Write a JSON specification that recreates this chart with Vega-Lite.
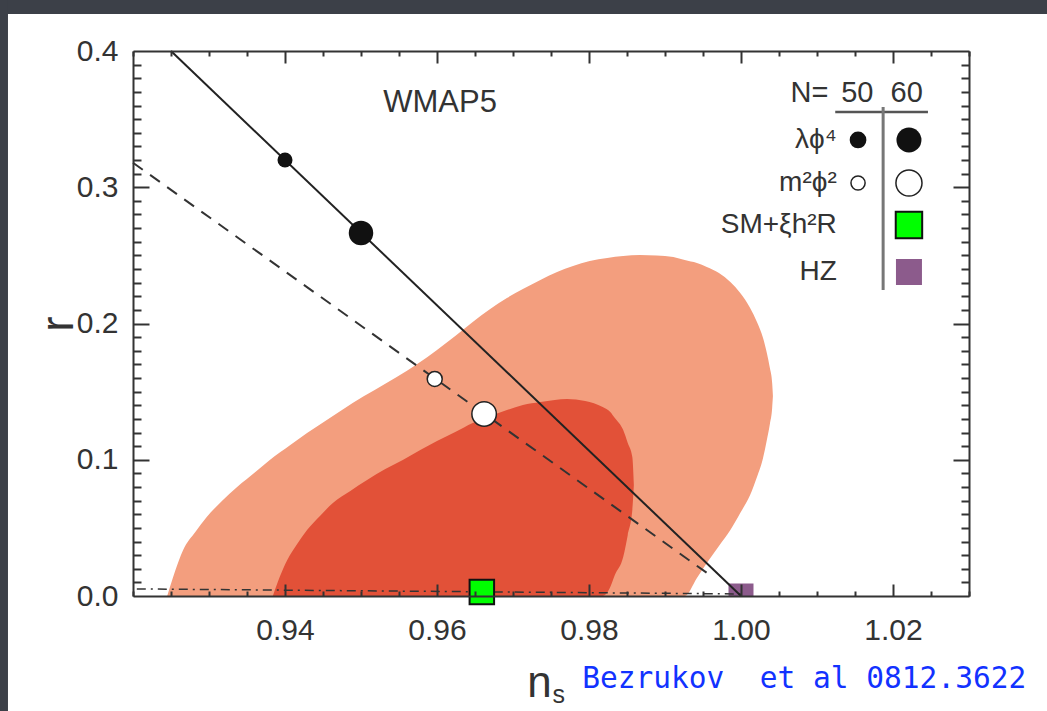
{
  "$schema": "https://vega.github.io/schema/vega-lite/v6.json",
  "usermeta": {"embedOptions": {"actions": false}},
  "width": 836,
  "height": 545,
  "autosize": {"type": "none"},
  "padding": {"left": 133, "top": 51, "right": 78, "bottom": 115},
  "background": "#ffffff",
  "config": {
    "view": {"stroke": null},
    "axis": {"grid": false, "labelFont": "Liberation Sans", "titleFont": "Liberation Sans", "zindex": 1}
  },
  "datasets": {
    "outer": [
      {"ns": 0.9245, "hi": 0.0, "lo": 0},
      {"ns": 0.9255, "hi": 0.0176, "lo": 0},
      {"ns": 0.9266, "hi": 0.0338, "lo": 0},
      {"ns": 0.9282, "hi": 0.047, "lo": 0},
      {"ns": 0.9297, "hi": 0.058, "lo": 0},
      {"ns": 0.9317, "hi": 0.0697, "lo": 0},
      {"ns": 0.9337, "hi": 0.08, "lo": 0},
      {"ns": 0.9361, "hi": 0.091, "lo": 0},
      {"ns": 0.938, "hi": 0.0998, "lo": 0},
      {"ns": 0.9407, "hi": 0.1108, "lo": 0},
      {"ns": 0.9429, "hi": 0.1196, "lo": 0},
      {"ns": 0.9459, "hi": 0.1306, "lo": 0},
      {"ns": 0.9489, "hi": 0.1417, "lo": 0},
      {"ns": 0.9518, "hi": 0.1512, "lo": 0},
      {"ns": 0.9547, "hi": 0.1607, "lo": 0},
      {"ns": 0.9574, "hi": 0.1703, "lo": 0},
      {"ns": 0.96, "hi": 0.1806, "lo": 0},
      {"ns": 0.9624, "hi": 0.1908, "lo": 0},
      {"ns": 0.9647, "hi": 0.2011, "lo": 0},
      {"ns": 0.967, "hi": 0.2106, "lo": 0},
      {"ns": 0.9692, "hi": 0.2187, "lo": 0},
      {"ns": 0.9713, "hi": 0.2253, "lo": 0},
      {"ns": 0.9736, "hi": 0.2319, "lo": 0},
      {"ns": 0.9758, "hi": 0.2378, "lo": 0},
      {"ns": 0.9779, "hi": 0.2422, "lo": 0},
      {"ns": 0.9801, "hi": 0.2459, "lo": 0},
      {"ns": 0.9824, "hi": 0.2481, "lo": 0},
      {"ns": 0.9845, "hi": 0.2495, "lo": 0},
      {"ns": 0.9867, "hi": 0.2503, "lo": 0},
      {"ns": 0.9889, "hi": 0.2499, "lo": 0},
      {"ns": 0.9911, "hi": 0.2488, "lo": 0},
      {"ns": 0.9926, "hi": 0.2466, "lo": 0},
      {"ns": 0.9942, "hi": 0.2444, "lo": 0.0132},
      {"ns": 0.9955, "hi": 0.2415, "lo": 0.0242},
      {"ns": 0.9971, "hi": 0.2371, "lo": 0.0367},
      {"ns": 0.9986, "hi": 0.2305, "lo": 0.0484},
      {"ns": 0.9999, "hi": 0.2224, "lo": 0.0609},
      {"ns": 1.0012, "hi": 0.2114, "lo": 0.0741},
      {"ns": 1.0021, "hi": 0.2011, "lo": 0.0873},
      {"ns": 1.0029, "hi": 0.1894, "lo": 0.1013},
      {"ns": 1.0034, "hi": 0.1784, "lo": 0.1145},
      {"ns": 1.0038, "hi": 0.1673, "lo": 0.1262},
      {"ns": 1.0041, "hi": 0.1563, "lo": 0.138},
      {"ns": 1.0042, "hi": 0.1468, "lo": 0.1468}
    ],
    "inner": [
      {"ns": 0.9384, "hi": 0.0, "lo": 0},
      {"ns": 0.9393, "hi": 0.0139, "lo": 0},
      {"ns": 0.9403, "hi": 0.0264, "lo": 0},
      {"ns": 0.9416, "hi": 0.0382, "lo": 0},
      {"ns": 0.9429, "hi": 0.0484, "lo": 0},
      {"ns": 0.9446, "hi": 0.0587, "lo": 0},
      {"ns": 0.9463, "hi": 0.0683, "lo": 0},
      {"ns": 0.9486, "hi": 0.0771, "lo": 0},
      {"ns": 0.9508, "hi": 0.0851, "lo": 0},
      {"ns": 0.9532, "hi": 0.0932, "lo": 0},
      {"ns": 0.9555, "hi": 0.0998, "lo": 0},
      {"ns": 0.9578, "hi": 0.1072, "lo": 0},
      {"ns": 0.96, "hi": 0.1138, "lo": 0},
      {"ns": 0.9624, "hi": 0.1204, "lo": 0},
      {"ns": 0.9647, "hi": 0.127, "lo": 0},
      {"ns": 0.967, "hi": 0.1321, "lo": 0},
      {"ns": 0.9692, "hi": 0.1365, "lo": 0},
      {"ns": 0.9713, "hi": 0.1402, "lo": 0},
      {"ns": 0.9736, "hi": 0.1424, "lo": 0},
      {"ns": 0.9755, "hi": 0.1439, "lo": 0},
      {"ns": 0.9771, "hi": 0.1446, "lo": 0},
      {"ns": 0.9795, "hi": 0.1431, "lo": 0},
      {"ns": 0.9818, "hi": 0.1387, "lo": 0},
      {"ns": 0.9828, "hi": 0.1351, "lo": 0.0066},
      {"ns": 0.9834, "hi": 0.1306, "lo": 0.0154},
      {"ns": 0.9845, "hi": 0.1218, "lo": 0.0286},
      {"ns": 0.9851, "hi": 0.1123, "lo": 0.0448},
      {"ns": 0.9857, "hi": 0.102, "lo": 0.0631},
      {"ns": 0.9859, "hi": 0.0815, "lo": 0.0815}
    ],
    "solid": [{"ns": 0.925, "r": 0.4}, {"ns": 1.0, "r": 0.0}],
    "dashed": [{"ns": 0.92, "r": 0.318}, {"ns": 0.9955, "r": 0.017}],
    "dashdot": [{"ns": 0.9205, "r": 0.0052}, {"ns": 1.0, "r": 0.0015}],
    "points": [
      {"model": "lambda_phi4", "N": 50, "ns": 0.94, "r": 0.32},
      {"model": "lambda_phi4", "N": 60, "ns": 0.95, "r": 0.2664},
      {"model": "m2_phi2", "N": 50, "ns": 0.9597, "r": 0.1593},
      {"model": "m2_phi2", "N": 60, "ns": 0.9662, "r": 0.1336},
      {"model": "SM_xi_h2R", "N": 60, "ns": 0.9659, "r": 0.003},
      {"model": "HZ", "ns": 1.0, "r": 0.0}
    ]
  },
  "layer": [
    {
      "data": {"values": [{}]},
      "layer": [
        {
          "mark": {"type": "rect", "fill": "#3c4048", "clip": false},
          "encoding": {
            "x": {"datum": 0.85, "type": "quantitative",
              "scale": {"domain": [0.92, 1.03], "nice": false, "zero": false},
              "axis": {"orient": "bottom", "values": [0.94, 0.96, 0.98, 1.0, 1.02], "format": ".2f", "ticks": false,
                "domain": true, "domainColor": "#333333", "domainWidth": 2, "labelFontSize": 30, "labelColor": "#333333",
                "labelPadding": 19, "labelFlush": false, "labelOverlap": false, "title": null, "zindex": 1}},
            "x2": {"datum": 1.2},
            "y": {"datum": 0.4272, "type": "quantitative",
              "scale": {"domain": [0, 0.4], "nice": false, "zero": false},
              "axis": {"orient": "left", "values": [0, 0.1, 0.2, 0.3, 0.4], "format": ".1f", "ticks": false,
                "domain": true, "domainColor": "#333333", "domainWidth": 2, "labelFontSize": 30, "labelColor": "#333333",
                "labelPadding": 15, "labelFlush": false, "labelOverlap": false, "title": "r", "titleFontSize": 46,
                "titleFontWeight": "normal", "titleColor": "#333333", "titlePadding": -6, "zindex": 1}},
            "y2": {"datum": 0.7}
          }
        },
        {
          "mark": {"type": "rect", "fill": "#3c4048", "clip": false},
          "encoding": {
            "x": {"datum": 0.85, "type": "quantitative"},
            "x2": {"datum": 0.90355},
            "y": {"datum": -0.3, "type": "quantitative"},
            "y2": {"datum": 0.7}
          }
        },
        {
          "data": {"name": "outer"},
          "mark": {"type": "area", "fill": "#f39e7e", "interpolate": "monotone"},
          "encoding": {
            "x": {"field": "ns", "type": "quantitative"},
            "y": {"field": "hi", "type": "quantitative"},
            "y2": {"field": "lo"}
          }
        },
        {
          "data": {"name": "inner"},
          "mark": {"type": "area", "fill": "#e25138", "interpolate": "monotone"},
          "encoding": {
            "x": {"field": "ns", "type": "quantitative"},
            "y": {"field": "hi", "type": "quantitative"},
            "y2": {"field": "lo"}
          }
        },
        {
          "data": {"name": "points"},
          "transform": [{"filter": "datum.model == 'HZ'"}],
          "mark": {"type": "square", "fill": "#8c5b8c", "size": 625, "opacity": 1, "clip": true},
          "encoding": {
            "x": {"field": "ns", "type": "quantitative"},
            "y": {"field": "r", "type": "quantitative"}
          }
        },
        {
          "data": {"name": "dashdot"},
          "mark": {"type": "line", "stroke": "#333333", "strokeWidth": 1.5, "strokeDash": [9, 5, 2, 5]},
          "encoding": {
            "x": {"field": "ns", "type": "quantitative"},
            "y": {"field": "r", "type": "quantitative"}
          }
        },
        {
          "data": {"name": "dashed"},
          "mark": {"type": "line", "stroke": "#333333", "strokeWidth": 2, "strokeDash": [12, 9]},
          "encoding": {
            "x": {"field": "ns", "type": "quantitative"},
            "y": {"field": "r", "type": "quantitative"}
          }
        },
        {
          "data": {"name": "solid"},
          "mark": {"type": "line", "stroke": "#222222", "strokeWidth": 2},
          "encoding": {
            "x": {"field": "ns", "type": "quantitative"},
            "y": {"field": "r", "type": "quantitative"}
          }
        },
        {
          "data": {"name": "points"},
          "transform": [{"filter": "datum.model == 'lambda_phi4'"}],
          "mark": {"type": "point", "shape": "circle", "filled": true, "fill": "#111111", "opacity": 1, "strokeWidth": 0},
          "encoding": {
            "x": {"field": "ns", "type": "quantitative"},
            "y": {"field": "r", "type": "quantitative"},
            "size": {"field": "N", "type": "ordinal", "scale": {"domain": [50, 60], "range": [225, 600]}, "legend": null}
          }
        },
        {
          "data": {"name": "points"},
          "transform": [{"filter": "datum.model == 'm2_phi2'"}],
          "mark": {"type": "point", "shape": "circle", "filled": true, "fill": "#ffffff", "stroke": "#222222", "strokeWidth": 1.5, "opacity": 1},
          "encoding": {
            "x": {"field": "ns", "type": "quantitative"},
            "y": {"field": "r", "type": "quantitative"},
            "size": {"field": "N", "type": "ordinal", "legend": null}
          }
        },
        {
          "data": {"name": "points"},
          "transform": [{"filter": "datum.model == 'SM_xi_h2R'"}],
          "mark": {"type": "square", "fill": "#00ff00", "stroke": "#111111", "strokeWidth": 2, "opacity": 1},
          "encoding": {
            "x": {"field": "ns", "type": "quantitative"},
            "y": {"field": "r", "type": "quantitative"},
            "size": {"field": "N", "type": "ordinal", "legend": null}
          }
        },
        {
          "mark": {"type": "text", "text": "WMAP5", "font": "Liberation Sans", "fontSize": 31, "fill": "#333333", "align": "center", "baseline": "middle", "clip": false},
          "encoding": {"x": {"datum": 0.9604, "type": "quantitative"}, "y": {"datum": 0.3618, "type": "quantitative"}}
        },
        {
          "mark": {"type": "text", "text": "N=", "font": "Liberation Sans", "fontSize": 29, "fill": "#333333", "align": "center", "baseline": "alphabetic"},
          "encoding": {"x": {"datum": 1.009, "type": "quantitative"}, "y": {"datum": 0.3626, "type": "quantitative"}}
        },
        {
          "mark": {"type": "text", "text": "50", "font": "Liberation Sans", "fontSize": 29, "fill": "#333333", "align": "center", "baseline": "alphabetic"},
          "encoding": {"x": {"datum": 1.0153, "type": "quantitative"}, "y": {"datum": 0.3626, "type": "quantitative"}}
        },
        {
          "mark": {"type": "text", "text": "60", "font": "Liberation Sans", "fontSize": 29, "fill": "#333333", "align": "center", "baseline": "alphabetic"},
          "encoding": {"x": {"datum": 1.0218, "type": "quantitative"}, "y": {"datum": 0.3626, "type": "quantitative"}}
        },
        {
          "mark": {"type": "rule", "stroke": "#555555", "strokeWidth": 2.5},
          "encoding": {"x": {"datum": 1.0124, "type": "quantitative"}, "x2": {"datum": 1.0246}, "y": {"datum": 0.3552, "type": "quantitative"}}
        },
        {
          "mark": {"type": "rule", "stroke": "#777777", "strokeWidth": 3},
          "encoding": {"x": {"datum": 1.0187, "type": "quantitative"}, "y": {"datum": 0.2246, "type": "quantitative"}, "y2": {"datum": 0.3589}}
        },
        {
          "mark": {"type": "text", "text": "λϕ⁴", "font": "Liberation Sans", "fontSize": 28, "fill": "#333333", "align": "right", "baseline": "middle"},
          "encoding": {"x": {"datum": 1.0126, "type": "quantitative"}, "y": {"datum": 0.3347, "type": "quantitative"}}
        },
        {
          "mark": {"type": "text", "text": "m²ϕ²", "font": "Liberation Sans", "fontSize": 28, "fill": "#333333", "align": "right", "baseline": "middle"},
          "encoding": {"x": {"datum": 1.0126, "type": "quantitative"}, "y": {"datum": 0.3031, "type": "quantitative"}}
        },
        {
          "mark": {"type": "text", "text": "SM+ξh²R", "font": "Liberation Sans", "fontSize": 28, "fill": "#333333", "align": "right", "baseline": "middle"},
          "encoding": {"x": {"datum": 1.0126, "type": "quantitative"}, "y": {"datum": 0.2723, "type": "quantitative"}}
        },
        {
          "mark": {"type": "text", "text": "HZ", "font": "Liberation Sans", "fontSize": 28, "fill": "#333333", "align": "right", "baseline": "middle"},
          "encoding": {"x": {"datum": 1.0126, "type": "quantitative"}, "y": {"datum": 0.2378, "type": "quantitative"}}
        },
        {
          "mark": {"type": "point", "shape": "circle", "filled": true, "fill": "#111111", "size": 280, "opacity": 1, "strokeWidth": 0},
          "encoding": {"x": {"datum": 1.0154, "type": "quantitative"}, "y": {"datum": 0.3347, "type": "quantitative"}}
        },
        {
          "mark": {"type": "point", "shape": "circle", "filled": true, "fill": "#111111", "size": 625, "opacity": 1, "strokeWidth": 0},
          "encoding": {"x": {"datum": 1.0221, "type": "quantitative"}, "y": {"datum": 0.3347, "type": "quantitative"}}
        },
        {
          "mark": {"type": "point", "shape": "circle", "filled": true, "fill": "#ffffff", "stroke": "#222222", "strokeWidth": 1.5, "size": 200, "opacity": 1},
          "encoding": {"x": {"datum": 1.0154, "type": "quantitative"}, "y": {"datum": 0.3031, "type": "quantitative"}}
        },
        {
          "mark": {"type": "point", "shape": "circle", "filled": true, "fill": "#ffffff", "stroke": "#222222", "strokeWidth": 1.5, "size": 680, "opacity": 1},
          "encoding": {"x": {"datum": 1.0221, "type": "quantitative"}, "y": {"datum": 0.3031, "type": "quantitative"}}
        },
        {
          "mark": {"type": "square", "fill": "#00ff00", "stroke": "#111111", "strokeWidth": 2, "size": 700, "opacity": 1},
          "encoding": {"x": {"datum": 1.0221, "type": "quantitative"}, "y": {"datum": 0.2723, "type": "quantitative"}}
        },
        {
          "mark": {"type": "square", "fill": "#8c5b8c", "size": 676, "opacity": 1},
          "encoding": {"x": {"datum": 1.0221, "type": "quantitative"}, "y": {"datum": 0.2378, "type": "quantitative"}}
        },
        {
          "mark": {"type": "text", "text": "n", "font": "Liberation Sans", "fontSize": 44, "fill": "#333333", "align": "center", "baseline": "alphabetic", "clip": false},
          "encoding": {"x": {"datum": 0.9735, "type": "quantitative"}, "y": {"datum": -0.0741, "type": "quantitative"}}
        },
        {
          "mark": {"type": "text", "text": "s", "font": "Liberation Sans", "fontSize": 25, "fill": "#333333", "align": "left", "baseline": "alphabetic", "clip": false},
          "encoding": {"x": {"datum": 0.9752, "type": "quantitative"}, "y": {"datum": -0.0782, "type": "quantitative"}}
        },
        {
          "mark": {"type": "text", "text": "Bezrukov\u00a0 et al 0812.3622", "font": "DejaVu Sans Mono", "fontSize": 29.5, "fill": "#1232ff", "align": "left", "baseline": "alphabetic", "clip": false},
          "encoding": {"x": {"datum": 0.9791, "type": "quantitative"}, "y": {"datum": -0.0675, "type": "quantitative"}}
        }
      ]
    },
    {
      "mark": {"type": "point", "opacity": 0},
      "encoding": {
        "x": {"datum": 0.95, "type": "quantitative", "scale": {"domain": [0.92, 1.03], "nice": false, "zero": false},
          "axis": {"orient": "bottom", "values": [0.92, 0.925, 0.93, 0.935, 0.945, 0.95, 0.955, 0.965, 0.97, 0.975, 0.985, 0.99, 0.995, 1.005, 1.01, 1.015, 1.025, 1.03],
            "labels": false, "domain": false, "title": null, "tickSize": -5, "tickWidth": 2, "tickColor": "#333333", "zindex": 2}},
        "y": {"datum": 0.1, "type": "quantitative", "scale": {"domain": [0, 0.4], "nice": false, "zero": false},
          "axis": {"orient": "left", "values": [0.01, 0.02, 0.03, 0.04, 0.05, 0.06, 0.07, 0.08, 0.09, 0.11, 0.12, 0.13, 0.14, 0.15, 0.16, 0.17, 0.18, 0.19, 0.21, 0.22, 0.23, 0.24, 0.25, 0.26, 0.27, 0.28, 0.29, 0.31, 0.32, 0.33, 0.34, 0.35, 0.36, 0.37, 0.38, 0.39],
            "labels": false, "domain": false, "title": null, "tickSize": -8, "tickWidth": 2, "tickColor": "#333333", "zindex": 2}}
      }
    },
    {
      "mark": {"type": "point", "opacity": 0},
      "encoding": {
        "x": {"datum": 0.95, "type": "quantitative", "scale": {"domain": [0.92, 1.03], "nice": false, "zero": false},
          "axis": {"orient": "bottom", "values": [0.94, 0.96, 0.98, 1.0, 1.02],
            "labels": false, "domain": false, "title": null, "tickSize": -12, "tickWidth": 2, "tickColor": "#333333", "zindex": 2}},
        "y": {"datum": 0.1, "type": "quantitative", "scale": {"domain": [0, 0.4], "nice": false, "zero": false},
          "axis": {"orient": "left", "values": [0.1, 0.2, 0.3],
            "labels": false, "domain": false, "title": null, "tickSize": -16, "tickWidth": 2, "tickColor": "#333333", "zindex": 2}}
      }
    },
    {
      "mark": {"type": "point", "opacity": 0},
      "encoding": {
        "x": {"datum": 0.95, "type": "quantitative", "scale": {"domain": [0.92, 1.03], "nice": false, "zero": false},
          "axis": {"orient": "top", "values": [0.92, 0.925, 0.93, 0.935, 0.945, 0.95, 0.955, 0.965, 0.97, 0.975, 0.985, 0.99, 0.995, 1.005, 1.01, 1.015, 1.025, 1.03],
            "labels": false, "domain": true, "domainColor": "#333333", "domainWidth": 2, "title": null, "tickSize": -5, "tickWidth": 2, "tickColor": "#333333", "zindex": 2}},
        "y": {"datum": 0.1, "type": "quantitative", "scale": {"domain": [0, 0.4], "nice": false, "zero": false},
          "axis": {"orient": "right", "values": [0.01, 0.02, 0.03, 0.04, 0.05, 0.06, 0.07, 0.08, 0.09, 0.11, 0.12, 0.13, 0.14, 0.15, 0.16, 0.17, 0.18, 0.19, 0.21, 0.22, 0.23, 0.24, 0.25, 0.26, 0.27, 0.28, 0.29, 0.31, 0.32, 0.33, 0.34, 0.35, 0.36, 0.37, 0.38, 0.39],
            "labels": false, "domain": true, "domainColor": "#333333", "domainWidth": 2, "title": null, "tickSize": -8, "tickWidth": 2, "tickColor": "#333333", "zindex": 2}}
      }
    },
    {
      "mark": {"type": "point", "opacity": 0},
      "encoding": {
        "x": {"datum": 0.95, "type": "quantitative", "scale": {"domain": [0.92, 1.03], "nice": false, "zero": false},
          "axis": {"orient": "top", "values": [0.94, 0.96, 0.98, 1.0, 1.02],
            "labels": false, "domain": false, "title": null, "tickSize": -12, "tickWidth": 2, "tickColor": "#333333", "zindex": 2}},
        "y": {"datum": 0.1, "type": "quantitative", "scale": {"domain": [0, 0.4], "nice": false, "zero": false},
          "axis": {"orient": "right", "values": [0.1, 0.2, 0.3],
            "labels": false, "domain": false, "title": null, "tickSize": -16, "tickWidth": 2, "tickColor": "#333333", "zindex": 2}}
      }
    }
  ],
  "resolve": {"axis": {"x": "independent", "y": "independent"}}
}
